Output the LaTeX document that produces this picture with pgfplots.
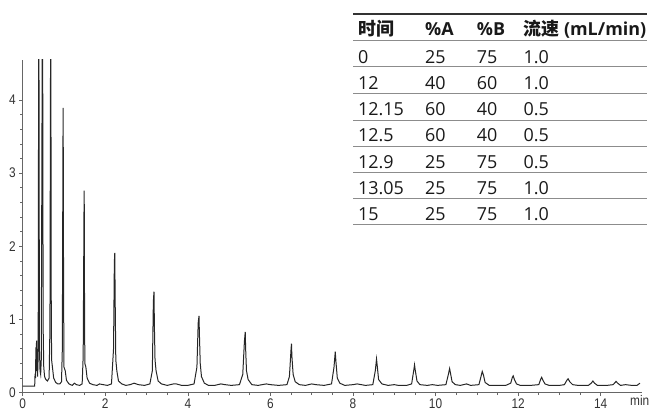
\documentclass[border=0pt]{standalone}
\usepackage{fontspec}
\setmainfont{Open Sans}
\newfontfamily\cjk{Noto Sans CJK SC}
\newfontfamily\tickfont[FakeStretch=0.85]{Liberation Sans}
\usepackage{pgfplots}
\pgfplotsset{compat=1.18}
\begin{document}
\begin{tikzpicture}[x=1bp,y=1bp]
\begin{axis}[
  at={(0,0)}, anchor=south west,
  scale only axis, width=619.3bp, height=332.7bp,
  xmin=0, xmax=15, ymin=0, ymax=4.545,
  axis lines*=left,
  axis line style={black!60, line width=0.8bp},
  tick align=outside,
  major tick length=3.5bp, minor tick length=2.5bp,
  tick style={black!60, line width=0.6bp},
  xtick={0,2,...,14}, minor x tick num=3,
  ytick={0,1,2,3,4}, minor y tick num=4,
  /pgf/number format/assume math mode=true,
  tick label style={font=\tickfont\fontsize{14}{16}\selectfont, text=black!80},
  xticklabel style={anchor=base, yshift=-12.3bp},
]
\addplot[black!85, line width=1bp] coordinates {
(0,0.09) (0.29,0.09) (0.30,0.26) (0.31,0.2) (0.32,0.62) (0.325,0.3) (0.335,0.71) (0.345,0.35) (0.35,0.6) (0.36,0.22) (0.375,0.5) (0.39,6) (0.405,0.6) (0.42,0.3) (0.435,0.25) (0.45,0.45) (0.48,6) (0.495,0.9) (0.51,0.35) (0.53,0.22) (0.56,0.18) (0.6,0.16) (0.64,0.2) (0.66,0.9) (0.68,6) (0.69,1.4) (0.70,0.45) (0.72,0.35) (0.75,0.2) (0.80,0.14) (0.85,0.12) (0.9,0.12) (0.94,0.15) (0.96,0.6) (0.975,3.4) (0.98,3.89) (0.99,1.4) (1.0,0.35) (1.03,0.3) (1.06,0.17) (1.12,0.12) (1.2,0.1) (1.25,0.13) (1.3,0.11) (1.38,0.1) (1.44,0.12) (1.465,0.5) (1.485,2.5) (1.49,2.76) (1.495,1.58) (1.505,0.4) (1.53,0.35) (1.56,0.2) (1.62,0.13) (1.7,0.11) (1.8,0.1) (1.86,0.12) (1.95,0.11) (2.05,0.1) (2.15,0.12) (2.2,0.6) (2.22,1.78) (2.23,1.91) (2.24,1.25) (2.255,0.45) (2.28,0.3) (2.32,0.16) (2.4,0.12) (2.5,0.1) (2.6,0.11) (2.7,0.13) (2.8,0.11) (2.95,0.1) (3.08,0.12) (3.14,0.3) (3.165,1.25) (3.18,1.38) (3.19,0.9) (3.205,0.45) (3.23,0.3) (3.28,0.16) (3.36,0.12) (3.5,0.1) (3.65,0.12) (3.72,0.12) (3.85,0.1) (4.0,0.1) (4.15,0.12) (4.22,0.35) (4.25,0.95) (4.27,1.05) (4.28,0.8) (4.3,0.4) (4.33,0.22) (4.4,0.13) (4.5,0.1) (4.65,0.1) (4.8,0.12) (4.9,0.11) (5.05,0.1) (5.25,0.11) (5.33,0.25) (5.37,0.7) (5.39,0.83) (5.4,0.6) (5.42,0.3) (5.46,0.18) (5.55,0.11) (5.7,0.1) (5.9,0.12) (6.0,0.11) (6.2,0.1) (6.4,0.11) (6.46,0.22) (6.5,0.6) (6.51,0.67) (6.52,0.5) (6.55,0.25) (6.6,0.15) (6.7,0.11) (6.85,0.1) (7.0,0.12) (7.1,0.11) (7.3,0.1) (7.48,0.12) (7.54,0.35) (7.57,0.56) (7.59,0.4) (7.62,0.2) (7.68,0.13) (7.8,0.1) (8.0,0.11) (8.1,0.12) (8.3,0.1) (8.48,0.11) (8.54,0.3) (8.57,0.46) (8.59,0.35) (8.62,0.18) (8.7,0.12) (8.85,0.1) (9.0,0.11) (9.1,0.1) (9.3,0.1) (9.42,0.12) (9.47,0.3) (9.49,0.38) (9.51,0.3) (9.55,0.16) (9.62,0.11) (9.8,0.1) (9.92,0.11) (10.05,0.1) (10.25,0.11) (10.31,0.25) (10.34,0.33) (10.36,0.27) (10.4,0.15) (10.48,0.11) (10.6,0.1) (10.75,0.12) (10.85,0.1) (11.05,0.11) (11.1,0.22) (11.13,0.29) (11.16,0.24) (11.2,0.14) (11.3,0.1) (11.5,0.1) (11.7,0.1) (11.82,0.13) (11.86,0.21) (11.88,0.23) (11.91,0.18) (11.96,0.12) (12.05,0.1) (12.3,0.1) (12.5,0.11) (12.55,0.19) (12.57,0.21) (12.6,0.17) (12.65,0.12) (12.75,0.1) (13.0,0.1) (13.12,0.11) (13.18,0.17) (13.21,0.19) (13.25,0.15) (13.32,0.11) (13.45,0.1) (13.7,0.1) (13.77,0.13) (13.81,0.16) (13.85,0.13) (13.92,0.1) (14.15,0.1) (14.3,0.11) (14.35,0.14) (14.37,0.155) (14.41,0.13) (14.48,0.1) (14.6,0.11) (14.75,0.1) (14.88,0.1) (14.95,0.13)
};
\end{axis}
\node[anchor=base, inner sep=0pt, font=\tickfont\fontsize{14}{16}\selectfont, text=black!80] at (617,-12.3) {min};
% table
\draw[black!80, line width=1.3bp] (330.3,378.7) -- (624.3,378.7);
\foreach \yy in {352, 326, 299.4, 272.7, 246.7, 220, 194.4, 168.7}
  \draw[black!45, line width=1bp] (330.3,\yy) -- (624.3,\yy);
\begin{scope}[every node/.style={anchor=base west, inner sep=0pt, font=\fontsize{18}{20}\selectfont, text=black!90}]
\node[font=\fontsize{18}{20}\selectfont\bfseries] at (335.3,357) {\cjk\bfseries 时间};
\node[font=\fontsize{18}{20}\selectfont\bfseries] at (402.3,357) {\%A};
\node[font=\fontsize{18}{20}\selectfont\bfseries] at (454,357) {\%B};
\node[font=\fontsize{18}{20}\selectfont\bfseries] at (500.6,357) {{\cjk\bfseries 流速} (mL/min)};
\foreach \t/\a/\b/\f [count=\i from 0] in {0/25/75/1.0, 12/40/60/1.0, 12.15/60/40/0.5, 12.5/60/40/0.5, 12.9/25/75/0.5, 13.05/25/75/1.0, 15/25/75/1.0} {
  \pgfmathsetmacro{\yb}{329.4-26.2*\i}
  \node at (335.3,\yb) {\t};
  \node at (402.3,\yb) {\a};
  \node at (454,\yb) {\b};
  \node at (500.6,\yb) {\f};
}
\end{scope}
\pgfresetboundingbox
\path (-22.7,-18.3) rectangle (629.3,392.7);
\end{tikzpicture}
\end{document}
